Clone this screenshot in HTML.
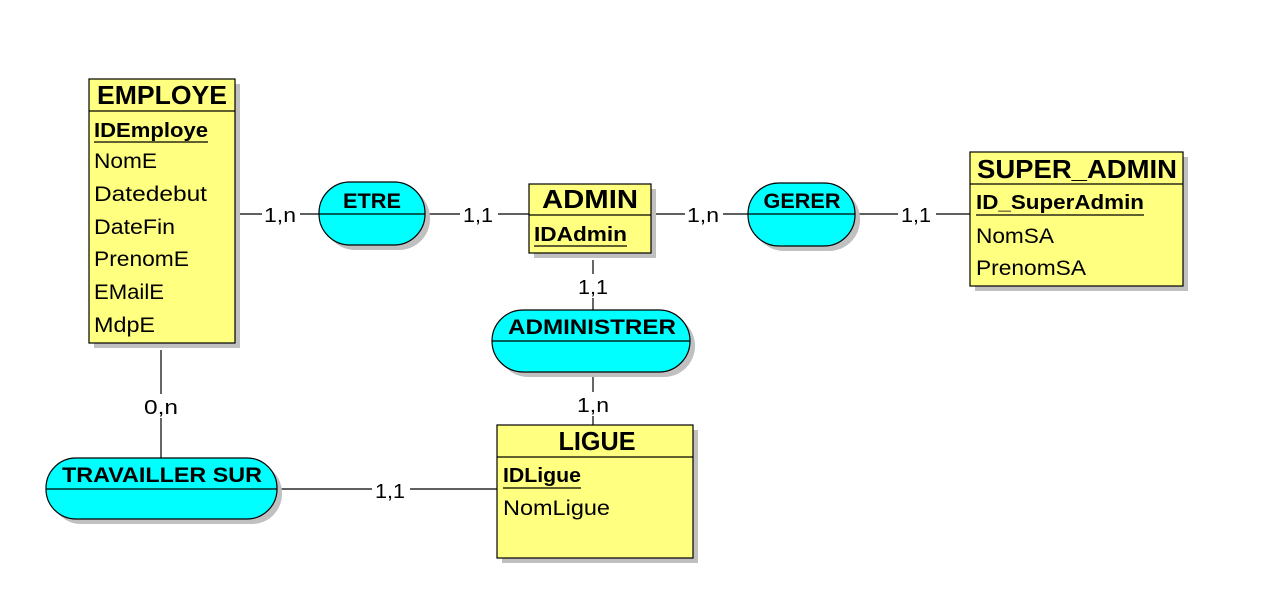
<!DOCTYPE html>
<html><head><meta charset="utf-8"><style>
html,body{margin:0;padding:0;background:#fff;}
svg{display:block;font-family:"Liberation Sans",sans-serif;}
.t{font-weight:bold;font-size:26px;fill:#000;}
.k{font-weight:bold;font-size:20px;fill:#000;}
.a{font-size:21px;fill:#000;}
.c{font-size:20px;fill:#000;}
.r{font-weight:bold;font-size:21px;fill:#000;}
</style></head><body>
<svg width="1262" height="607" viewBox="0 0 1262 607">
<g stroke="#000" stroke-width="1.2">
<line x1="240" y1="214" x2="319" y2="214"/>
<line x1="425" y1="214" x2="529" y2="214"/>
<line x1="656" y1="214" x2="748" y2="214"/>
<line x1="858" y1="214" x2="970" y2="214"/>
<line x1="593" y1="260" x2="593" y2="310"/>
<line x1="593" y1="377" x2="593" y2="425"/>
<line x1="161" y1="350" x2="161" y2="458"/>
<line x1="280" y1="489" x2="497" y2="489"/>
</g>
<g>
<rect x="262" y="202" width="38" height="24" fill="#fff"/><text class="c" x="280" y="222" text-anchor="middle" textLength="32" lengthAdjust="spacingAndGlyphs">1,n</text>
<rect x="460" y="202" width="38" height="24" fill="#fff"/><text class="c" x="478" y="222" text-anchor="middle" textLength="30" lengthAdjust="spacingAndGlyphs">1,1</text>
<rect x="685" y="202" width="38" height="24" fill="#fff"/><text class="c" x="703" y="222" text-anchor="middle" textLength="32" lengthAdjust="spacingAndGlyphs">1,n</text>
<rect x="898" y="202" width="38" height="24" fill="#fff"/><text class="c" x="916" y="222" text-anchor="middle" textLength="30" lengthAdjust="spacingAndGlyphs">1,1</text>
<rect x="575" y="274" width="38" height="24" fill="#fff"/><text class="c" x="593" y="294" text-anchor="middle" textLength="30" lengthAdjust="spacingAndGlyphs">1,1</text>
<rect x="575" y="392" width="38" height="24" fill="#fff"/><text class="c" x="593" y="412" text-anchor="middle" textLength="32" lengthAdjust="spacingAndGlyphs">1,n</text>
<rect x="143" y="394" width="38" height="24" fill="#fff"/><text class="c" x="161" y="414" text-anchor="middle" textLength="34" lengthAdjust="spacingAndGlyphs">0,n</text>
<rect x="372" y="478" width="38" height="24" fill="#fff"/><text class="c" x="390" y="498" text-anchor="middle" textLength="30" lengthAdjust="spacingAndGlyphs">1,1</text>
</g>
<g fill="#c0c0c0">
<rect x="94" y="84" width="146" height="264"/>
<rect x="534" y="189" width="122" height="69"/>
<rect x="975" y="157" width="213" height="134"/>
<rect x="502" y="430" width="196" height="133"/>
<rect x="324" y="187" width="106" height="63" rx="31"/>
<rect x="753" y="188" width="107" height="63" rx="31"/>
<rect x="497" y="315" width="198" height="62" rx="31"/>
<rect x="51" y="463" width="231" height="61" rx="30"/>
</g>
<g stroke="#000" stroke-width="1.2" fill="#ffff80">
<rect x="89" y="79" width="146" height="264"/>
<line x1="89" y1="111" x2="235" y2="111"/>
<rect x="529" y="184" width="122" height="69"/>
<line x1="529" y1="215" x2="651" y2="215"/>
<rect x="970" y="152" width="213" height="134"/>
<line x1="970" y1="184" x2="1183" y2="184"/>
<rect x="497" y="425" width="196" height="133"/>
<line x1="497" y1="457" x2="693" y2="457"/>
</g>
<g stroke="#000" stroke-width="1.2" fill="#00ffff">
<rect x="319" y="182" width="106" height="63" rx="31"/>
<line x1="319" y1="214" x2="425" y2="214"/>
<rect x="748" y="183" width="107" height="63" rx="31"/>
<line x1="748" y1="214" x2="855" y2="214"/>
<rect x="492" y="310" width="198" height="62" rx="31"/>
<line x1="492" y1="341" x2="690" y2="341"/>
<rect x="46" y="458" width="231" height="61" rx="30"/>
<line x1="46" y1="489" x2="277" y2="489"/>
</g>
<text class="t" x="162" y="104" text-anchor="middle" textLength="130" lengthAdjust="spacingAndGlyphs">EMPLOYE</text>
<text class="k" x="94" y="137" textLength="114" lengthAdjust="spacingAndGlyphs">IDEmploye</text>
<line x1="94" y1="142" x2="208" y2="142" stroke="#000" stroke-width="1.3"/>
<text class="a" x="94" y="168" textLength="63" lengthAdjust="spacingAndGlyphs">NomE</text>
<text class="a" x="94" y="201" textLength="113" lengthAdjust="spacingAndGlyphs">Datedebut</text>
<text class="a" x="94" y="234" textLength="81" lengthAdjust="spacingAndGlyphs">DateFin</text>
<text class="a" x="94" y="266" textLength="95" lengthAdjust="spacingAndGlyphs">PrenomE</text>
<text class="a" x="94" y="299" textLength="70" lengthAdjust="spacingAndGlyphs">EMailE</text>
<text class="a" x="94" y="332" textLength="61" lengthAdjust="spacingAndGlyphs">MdpE</text>

<text class="t" x="590" y="208" text-anchor="middle" textLength="96" lengthAdjust="spacingAndGlyphs">ADMIN</text>
<text class="k" x="534" y="241" textLength="93" lengthAdjust="spacingAndGlyphs">IDAdmin</text>
<line x1="534" y1="246" x2="627" y2="246" stroke="#000" stroke-width="1.3"/>

<text class="t" x="1077" y="178" text-anchor="middle" textLength="200" lengthAdjust="spacingAndGlyphs">SUPER_ADMIN</text>
<text class="k" x="976" y="209" textLength="168" lengthAdjust="spacingAndGlyphs">ID_SuperAdmin</text>
<line x1="976" y1="215" x2="1144" y2="215" stroke="#000" stroke-width="1.3"/>
<text class="a" x="976" y="243" textLength="78" lengthAdjust="spacingAndGlyphs">NomSA</text>
<text class="a" x="976" y="275" textLength="110" lengthAdjust="spacingAndGlyphs">PrenomSA</text>

<text class="t" x="597" y="450" text-anchor="middle" textLength="77" lengthAdjust="spacingAndGlyphs">LIGUE</text>
<text class="k" x="503" y="482" textLength="78" lengthAdjust="spacingAndGlyphs">IDLigue</text>
<line x1="503" y1="488" x2="581" y2="488" stroke="#000" stroke-width="1.3"/>
<text class="a" x="503" y="515" textLength="107" lengthAdjust="spacingAndGlyphs">NomLigue</text>
<text class="r" x="372" y="208" text-anchor="middle" textLength="58" lengthAdjust="spacingAndGlyphs">ETRE</text>
<text class="r" x="802" y="208" text-anchor="middle" textLength="77" lengthAdjust="spacingAndGlyphs">GERER</text>
<text class="r" x="592" y="334" text-anchor="middle" textLength="168" lengthAdjust="spacingAndGlyphs">ADMINISTRER</text>
<text class="r" x="162" y="482" text-anchor="middle" textLength="200" lengthAdjust="spacingAndGlyphs">TRAVAILLER SUR</text>
</svg>
</body></html>
